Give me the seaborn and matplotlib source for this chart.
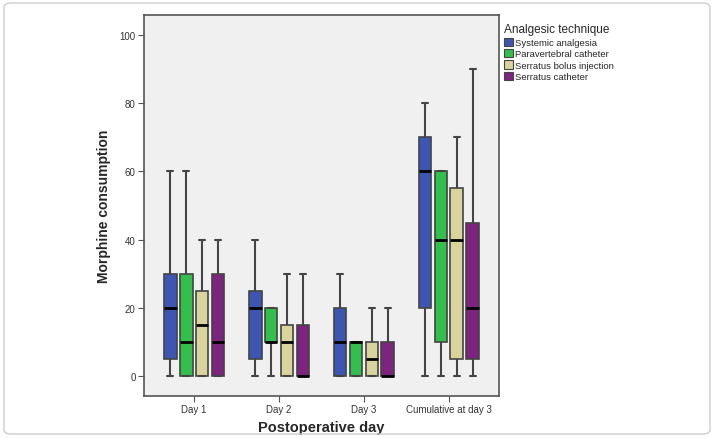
# Morphine consumption by postoperative day and analgesic technique
import numpy as np
import pandas as pd
import matplotlib.pyplot as plt
import seaborn as sns
from matplotlib.patches import FancyBboxPatch, Patch

sns.set_style("ticks", {"axes.facecolor": "#f0f0f0", "axes.edgecolor": "#555555"})
plt.rcParams['font.family'] = ['Liberation Sans', 'DejaVu Sans']

# -----------------------------
# Data (min, q1, median, q3, max)
# -----------------------------
days = ["Day 1", "Day 2", "Day 3", "Cumulative at day 3"]
techniques = ["Systemic analgesia", "Paravertebral catheter",
              "Serratus bolus injection", "Serratus catheter"]
colors = ["#3d56b3", "#33bf4c", "#d9d49c", "#7e2380"]

systemic = [[0, 5, 20, 30, 60], [0, 5, 20, 25, 40], [0, 0, 10, 20, 30], [0, 20, 60, 70, 80]]
paravertebral = [[0, 0, 10, 30, 60], [0, 10, 10, 20, 20], [0, 0, 10, 10, 10], [0, 10, 40, 60, 60]]
serratus_bolus = [[0, 0, 15, 25, 40], [0, 0, 10, 15, 30], [0, 0, 5, 10, 20], [0, 5, 40, 55, 70]]
serratus_cath = [[0, 0, 10, 30, 40], [0, 0, 0, 15, 30], [0, 0, 0, 10, 20], [0, 5, 20, 45, 90]]

rows = []
for tech, stats in zip(techniques, [systemic, paravertebral, serratus_bolus, serratus_cath]):
    for day, vals in zip(days, stats):
        for v in vals:
            rows.append({"day": day, "technique": tech, "morphine": v})
df = pd.DataFrame(rows)

# -----------------------------
# Plot
# -----------------------------
fig = plt.figure(figsize=(7.14, 4.39), dpi=100)
ax = fig.add_axes([144/714, 1 - 397/439, 355/714, 381/439])

sns.boxplot(data=df, x="day", y="morphine", hue="technique", order=days,
            hue_order=techniques, palette=colors, whis=(0, 100), width=0.75,
            gap=0.2, saturation=1, linecolor="#444444", linewidth=1.2,
            medianprops={"color": "black", "linewidth": 2},
            whiskerprops={"color": "#444444", "linewidth": 1.5},
            capprops={"color": "#444444", "linewidth": 1.5},
            legend=False, ax=ax)

ax.set_xlim(-0.59, 3.59)
ax.set_ylim(-6, 106)
ax.set_yticks([0, 20, 40, 60, 80, 100])
ax.tick_params(axis="both", labelsize=7, colors="#555555", labelcolor="#333333", length=4, pad=2)
ax.set_xlabel("Postoperative day", fontsize=10.5, fontweight="bold", labelpad=4)
ax.set_ylabel("Morphine consumption", fontsize=10, fontweight="bold", labelpad=6)
for s in ax.spines.values():
    s.set_linewidth(1.2)

handles = [Patch(facecolor=c, edgecolor="#444444", linewidth=0.8, label=t)
           for c, t in zip(colors, techniques)]
leg = fig.legend(handles=handles, title="Analgesic technique", loc="upper left",
                 bbox_to_anchor=(500/714, 1 - 20/439), frameon=False, fontsize=6.8,
                 title_fontsize=8.5, handlelength=0.95, handleheight=1.0,
                 handletextpad=0.25, labelspacing=0.2, borderaxespad=0)
leg._legend_box.align = "left"
leg._legend_box.sep = 2

# outer frame
fig.patches.append(FancyBboxPatch((4/714, 4/439), 706/714, 431/439,
                                  boxstyle="round,pad=0,rounding_size=0.01",
                                  transform=fig.transFigure, facecolor="none",
                                  edgecolor="#cccccc", linewidth=1))

fig.savefig("out.png", dpi=100)
